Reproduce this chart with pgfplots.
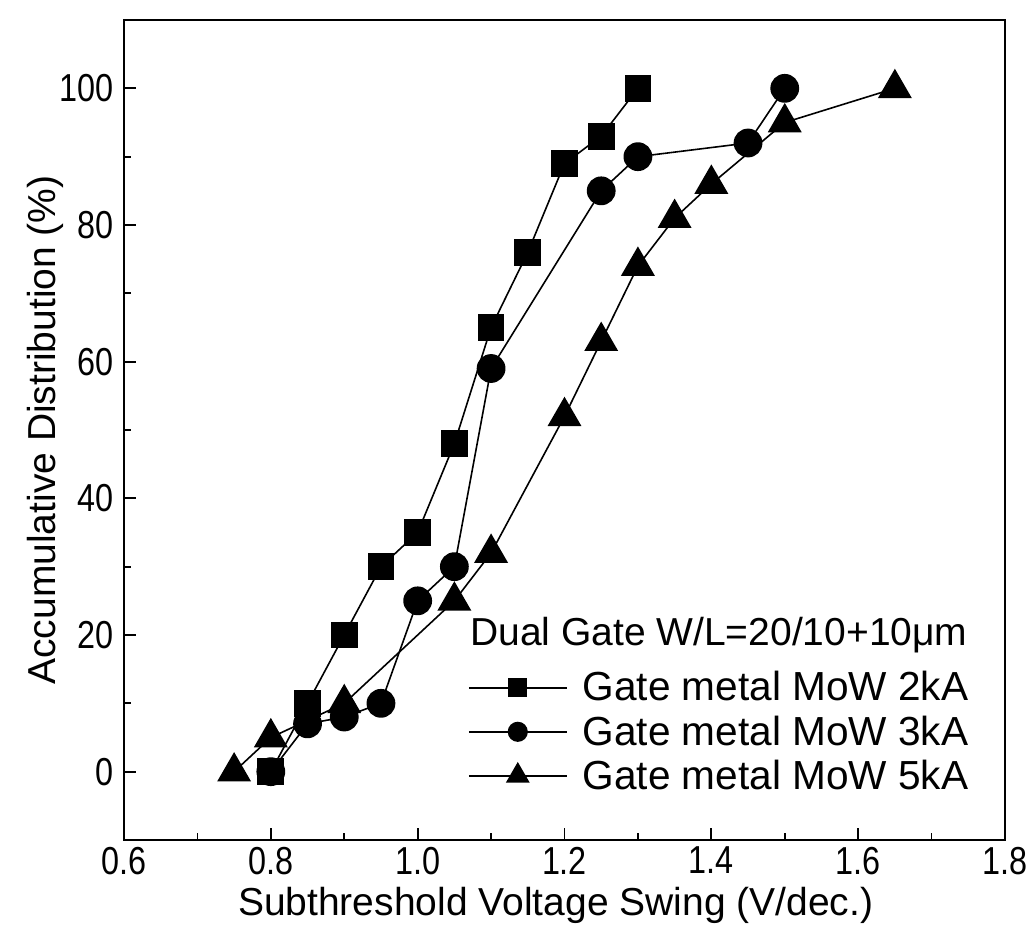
\documentclass[border=0pt]{standalone}
\usepackage{pgfplots}
\pgfplotsset{compat=1.18}
\usepackage{fontspec}
\setmainfont{Liberation Sans}
\newfontfamily\tickfam{Liberation Sans}[FakeStretch=0.83]
\newcommand{\myfont}{\fontsize{19.5}{23}\selectfont}
\newcommand{\legfont}{\fontsize{20.3}{24}\selectfont}
\newcommand{\tickfont}{\tickfam\fontsize{19.5}{23}\selectfont}
\begin{document}
\begin{tikzpicture}
\begin{axis}[
  scale only axis,
  width=440.5pt, height=410pt,
  xmin=0.6, xmax=1.8, ymin=-10, ymax=110,
  xtick={0.6,0.8,1.0,1.2,1.4,1.6,1.8},
  xticklabels={0.6,0.8,1.0,1.2,1.4,1.6,1.8},
  ytick={0,20,40,60,80,100},
  minor tick num=1,
  tick align=inside,
  xtick pos=bottom, ytick pos=left,
  major tick length=6pt, minor tick length=3.5pt,
  axis line style={line width=1.1pt},
  every tick/.style={black, line width=0.9pt},
  tick label style={font=\tickfont},
  xticklabel style={yshift=0pt},
  yticklabel style={xshift=-1.5pt},
  /pgf/number format/assume math mode=true,
  xlabel={Subthreshold Voltage Swing (V/dec.)},
  ylabel={Accumulative Distribution (\%)},
  label style={font=\myfont},
  xlabel style={at={(axis description cs:0.49,-0.0793)}, anchor=center},
  ylabel style={at={(axis description cs:-0.0897,0.5)}, anchor=center},
  legend cell align=left,
  legend style={draw=none, fill=none, font=\legfont, inner sep=0pt,
    at={(axis cs:1.068,15)}, anchor=north west, row sep=3.8pt,
    nodes={inner sep=1pt}},
  legend image code/.code={\draw[#1, mark repeat=2, mark phase=2, mark options={scale=0.68}] plot coordinates {(0pt,0pt) (24.5pt,0pt) (49pt,0pt)}; \path (55.5pt,0pt);},
]
\addplot[black, line width=0.8pt, mark=square*, mark size=6.3pt] coordinates {
 (0.80,0) (0.85,10) (0.90,20) (0.95,30) (1.00,35) (1.05,48) (1.10,65) (1.15,76) (1.20,89) (1.25,93) (1.30,100)};
\addlegendentry{Gate metal MoW 2kA}
\addplot[black, line width=0.8pt, mark=*, mark size=6.8pt] coordinates {
 (0.80,0) (0.85,7) (0.90,8) (0.95,10) (1.00,25) (1.05,30) (1.10,59) (1.25,85) (1.30,90) (1.45,92) (1.50,100)};
\addlegendentry{Gate metal MoW 3kA}
\addplot[black, line width=0.8pt, mark=triangle*, mark size=9pt] coordinates {
 (0.75,0) (0.80,5) (0.90,10) (1.05,25) (1.10,32) (1.20,52) (1.25,63) (1.30,74) (1.35,81) (1.40,86) (1.50,95) (1.65,100)};
\addlegendentry{Gate metal MoW 5kA}
\node[anchor=west, inner sep=0pt, font=\myfont] at (axis cs:1.071,20) {Dual Gate W/L=20/10+10μm};
\end{axis}
\pgfresetboundingbox
\path (-62pt,-46.5pt) rectangle (455pt,420pt);
\end{tikzpicture}
\end{document}
